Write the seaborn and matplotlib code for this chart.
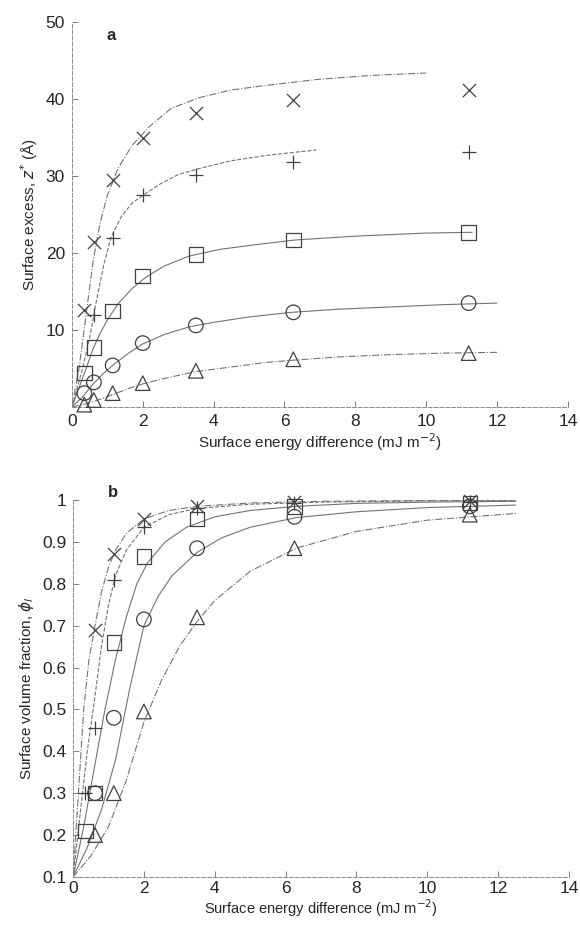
import numpy as np
import pandas as pd
import matplotlib
matplotlib.use("Agg")
import matplotlib.pyplot as plt
import seaborn as sns

# measured points (same energy differences for every series)
x_pts = [0.35, 0.62, 1.15, 2.0, 3.5, 6.25, 11.2]

# panel a: surface excess z* (A)
a_cross = [12.6, 21.4, 29.5, 34.9, 38.2, 39.9, 41.2]
a_plus = [None, 12.0, 21.9, 27.5, 30.1, 31.8, 33.1]
a_square = [4.4, 7.7, 12.5, 17.0, 19.8, 21.7, 22.7]
a_circle = [1.8, 3.2, 5.4, 8.3, 10.6, 12.3, 13.5]
a_triangle = [0.3, 0.9, 1.8, 3.1, 4.7, 6.2, 7.0]

# panel b: surface volume fraction phi_l
b_cross = [None, 0.69, 0.87, 0.955, 0.985, 0.995, 0.997]
b_plus = [0.30, 0.455, 0.81, 0.935, 0.98, 0.993, 0.996]
b_square = [0.21, 0.30, 0.66, 0.865, 0.955, 0.985, 0.993]
b_circle = [None, 0.30, 0.48, 0.715, 0.885, 0.96, 0.985]
b_triangle = [None, 0.20, 0.30, 0.495, 0.72, 0.885, 0.965]

# fitted curves
a_cross_cx = [0, 0.2, 0.4, 0.6, 0.8, 1.0, 1.3, 1.7, 2.2, 2.8, 3.6, 4.5, 5.5, 7, 8.5, 10]
a_cross_cy = [0, 5, 12, 19, 24, 27.5, 31, 34, 36.5, 38.8, 40.2, 41.2, 41.8, 42.6, 43.1, 43.4]
a_plus_cx = [0, 0.3, 0.5, 0.7, 0.9, 1.1, 1.4, 1.7, 2.0, 2.5, 3, 3.6, 4.5, 5.5, 6.9]
a_plus_cy = [0, 5, 9, 14, 18.5, 22, 24.8, 26.5, 27.5, 29, 30.2, 31, 32, 32.7, 33.4]
a_square_cx = [0, 0.2, 0.4, 0.6, 0.8, 1.0, 1.3, 1.7, 2.1, 2.6, 3.3, 4.2, 5.2, 6.3, 8, 10, 11.3]
a_square_cy = [0, 2.5, 5, 7.6, 9.6, 11.3, 13.4, 15.4, 16.9, 18.3, 19.6, 20.5, 21.1, 21.7, 22.2, 22.6, 22.7]
a_circle_cx = [0, 0.3, 0.6, 0.9, 1.2, 1.6, 2, 2.6, 3.3, 4, 5, 6.2, 7.5, 9, 10.5, 12]
a_circle_cy = [0, 1.3, 3, 4.4, 5.6, 7, 8.2, 9.4, 10.4, 11, 11.7, 12.3, 12.7, 13, 13.3, 13.5]
a_tri_cx = [0, 0.4, 0.8, 1.2, 1.6, 2, 2.6, 3.5, 4.5, 5.5, 6.3, 7.5, 9, 10.5, 12]
a_tri_cy = [0, 0.4, 1.0, 1.7, 2.4, 3.0, 3.7, 4.6, 5.2, 5.8, 6.1, 6.5, 6.8, 7.0, 7.1]

b_cross_cx = [0, 0.15, 0.3, 0.45, 0.62, 0.8, 1.0, 1.2, 1.5, 2.0, 2.7, 3.5, 5, 7, 10, 12.5]
b_cross_cy = [0.1, 0.3, 0.5, 0.62, 0.7, 0.78, 0.84, 0.88, 0.92, 0.955, 0.975, 0.985, 0.993, 0.997, 0.999, 1.0]
b_plus_cx = [0, 0.2, 0.4, 0.6, 0.8, 1.0, 1.2, 1.5, 2.0, 2.7, 3.5, 5, 7, 10, 12.5]
b_plus_cy = [0.1, 0.25, 0.4, 0.52, 0.65, 0.75, 0.82, 0.88, 0.935, 0.965, 0.98, 0.99, 0.995, 0.998, 0.999]
b_square_cx = [0, 0.3, 0.6, 0.9, 1.2, 1.5, 1.8, 2.1, 2.6, 3.2, 4, 5, 6.3, 8, 10, 12.5]
b_square_cy = [0.1, 0.22, 0.36, 0.5, 0.62, 0.72, 0.8, 0.85, 0.9, 0.935, 0.96, 0.975, 0.985, 0.992, 0.995, 0.997]
b_circle_cx = [0, 0.4, 0.8, 1.2, 1.6, 2.0, 2.4, 2.8, 3.5, 4.2, 5, 6.3, 8, 10, 12.5]
b_circle_cy = [0.1, 0.17, 0.26, 0.38, 0.55, 0.70, 0.77, 0.82, 0.875, 0.91, 0.935, 0.958, 0.972, 0.982, 0.988]
b_tri_cx = [0, 0.5, 1.0, 1.5, 2.0, 2.5, 3, 3.5, 4, 5, 6.3, 8, 10, 12.5]
b_tri_cy = [0.1, 0.15, 0.22, 0.33, 0.47, 0.57, 0.65, 0.71, 0.76, 0.83, 0.885, 0.925, 0.952, 0.968]

sns.set_style("ticks")
plt.rcParams['font.family'] = ['Liberation Sans', 'DejaVu Sans']
plt.rcParams['mathtext.fontset'] = 'dejavusans'

ink = '0.25'
line_ink = '0.45'
markers = ['x', '+', 's', 'o', '^']
styles = ['-.', '--', '-', '-', '-.']

fig = plt.figure(figsize=(5.8, 9.26), dpi=100)
ax_a = fig.add_axes([0.124, 0.5605, 0.855, 0.4155])
ax_b = fig.add_axes([0.126, 0.053, 0.855, 0.407])


def draw_panel(ax, pts, curves):
    for i, (vals, (cx, cy)) in enumerate(zip(pts, curves)):
        sns.lineplot(x=cx, y=cy, ax=ax, color=line_ink, lw=0.8,
                     linestyle=styles[i], sort=False, estimator=None)
        df = pd.DataFrame({'x': x_pts, 'y': vals}).dropna()
        m = markers[i]
        if m in ('x', '+'):
            sns.scatterplot(data=df, x='x', y='y', ax=ax, marker=m, s=90,
                            color=ink, linewidth=0.9, clip_on=False, zorder=3)
        else:
            sns.scatterplot(data=df, x='x', y='y', ax=ax, marker=m, s=110,
                            facecolor='none', edgecolor=ink, linewidth=0.9,
                            clip_on=False, zorder=3)


draw_panel(ax_a, [a_cross, a_plus, a_square, a_circle, a_triangle],
           [(a_cross_cx, a_cross_cy), (a_plus_cx, a_plus_cy),
            (a_square_cx, a_square_cy), (a_circle_cx, a_circle_cy),
            (a_tri_cx, a_tri_cy)])
draw_panel(ax_b, [b_cross, b_plus, b_square, b_circle, b_triangle],
           [(b_cross_cx, b_cross_cy), (b_plus_cx, b_plus_cy),
            (b_square_cx, b_square_cy), (b_circle_cx, b_circle_cy),
            (b_tri_cx, b_tri_cy)])

ax_a.set_xlim(0, 14)
ax_a.set_ylim(0, 50)
ax_a.set_xticks([0, 2, 4, 6, 8, 10, 12, 14])
ax_a.set_yticks([10, 20, 30, 40, 50])
ax_a.set_xlabel(r"Surface energy difference (mJ m$^{-2}$)", fontsize=11, labelpad=2)
ax_a.set_ylabel(r"Surface excess, $z^{*}$ (Å)", fontsize=11, labelpad=4)

ax_b.set_xlim(0, 14)
ax_b.set_ylim(0.1, 1.0)
ax_b.set_xticks([0, 2, 4, 6, 8, 10, 12, 14])
ax_b.set_yticks([0.1, 0.2, 0.3, 0.4, 0.5, 0.6, 0.7, 0.8, 0.9, 1.0])
ax_b.set_yticklabels(['0.1', '0.2', '0.3', '0.4', '0.5', '0.6', '0.7', '0.8', '0.9', '1'])
ax_b.set_xlabel(r"Surface energy difference (mJ m$^{-2}$)", fontsize=10.5, labelpad=1)
ax_b.set_ylabel(r"Surface volume fraction, $\phi_l$", fontsize=11, labelpad=4)

for ax in (ax_a, ax_b):
    sns.despine(ax=ax)
    for sp in ('left', 'bottom'):
        ax.spines[sp].set_color('0.55')
        ax.spines[sp].set_linewidth(0.7)
        ax.spines[sp].set_linestyle((0, (4, 2)))
    ax.tick_params(direction='in', length=4, width=0.7, color='0.5',
                   labelsize=12.5, pad=5)
ax_b.tick_params(axis='x', pad=3)

ax_a.text(0.07, 0.985, 'a', transform=ax_a.transAxes, fontsize=12,
          fontweight='bold', va='top')
ax_b.text(0.07, 1.04, 'b', transform=ax_b.transAxes, fontsize=12,
          fontweight='bold', va='top')

fig.savefig('out.png', dpi=100)
